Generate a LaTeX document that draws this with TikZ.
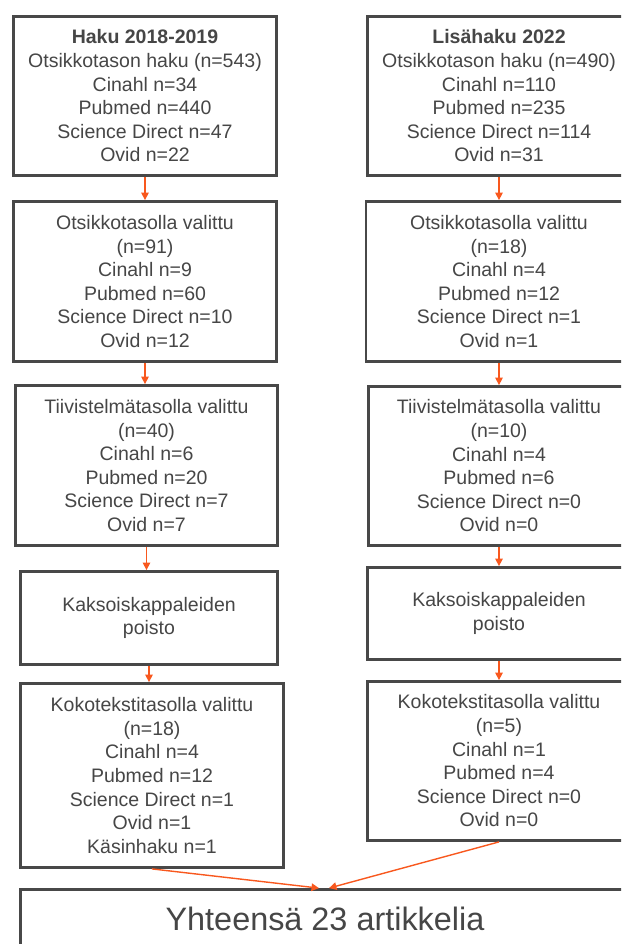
\documentclass[tikz,border=0pt]{standalone}
\usepackage{fontspec}
\setmainfont{Liberation Sans}
\usetikzlibrary{arrows.meta,calc}
\definecolor{tx}{RGB}{70,70,70}
\definecolor{bd}{RGB}{72,72,72}
\definecolor{orng}{RGB}{248,88,30}
\begin{document}
\begin{tikzpicture}[x=1pt,y=-1pt,
  box/.style={draw=bd, line width=2.8pt, fill=white, inner sep=0pt, align=center, text=tx,
              font=\fontsize{19.5}{23.6}\selectfont},
  arr/.style={draw=orng, line width=1.4pt, -{Triangle[width=7.5pt,length=7.5pt]}}]
\useasboundingbox (0,0) rectangle (621,944);
\begin{scope}
\clip (0,0) rectangle (621,944);
% left column
\node[box, minimum width=263pt, minimum height=159pt] (L1) at (145,96)
  {\textbf{Haku 2018-2019}\\Otsikkotason haku (n=543)\\Cinahl n=34\\Pubmed n=440\\Science Direct n=47\\Ovid n=22};
\node[box, minimum width=263pt, minimum height=160pt] (L2) at (145,281.5)
  {Otsikkotasolla valittu\\(n=91)\\Cinahl n=9\\Pubmed n=60\\Science Direct n=10\\Ovid n=12};
\node[box, minimum width=262pt, minimum height=160pt] (L3) at (146.5,465.5)
  {Tiivistelmätasolla valittu\\(n=40)\\Cinahl n=6\\Pubmed n=20\\Science Direct n=7\\Ovid n=7};
\node[box, minimum width=257pt, minimum height=93pt] (L4) at (149,618)
  {Kaksoiskappaleiden\\poisto};
\node[box, minimum width=263pt, minimum height=184pt] (L5) at (152,775.5)
  {Kokotekstitasolla valittu\\(n=18)\\Cinahl n=4\\Pubmed n=12\\Science Direct n=1\\Ovid n=1\\Käsinhaku n=1};
% right column
\node[box, minimum width=263pt, minimum height=159pt] (R1) at (499,96)
  {\textbf{Lisähaku 2022}\\Otsikkotason haku (n=490)\\Cinahl n=110\\Pubmed n=235\\Science Direct n=114\\Ovid n=31};
\node[box, minimum width=266pt, minimum height=160pt] (R2) at (499,281.5)
  {Otsikkotasolla valittu\\(n=18)\\Cinahl n=4\\Pubmed n=12\\Science Direct n=1\\Ovid n=1};
\node[box, minimum width=261pt, minimum height=159pt] (R3) at (499,466)
  {Tiivistelmätasolla valittu\\(n=10)\\Cinahl n=4\\Pubmed n=6\\Science Direct n=0\\Ovid n=0};
\node[box, minimum width=263pt, minimum height=92pt] (R4) at (499,613.5)
  {Kaksoiskappaleiden\\poisto};
\node[box, minimum width=263pt, minimum height=159pt] (R5) at (499,761)
  {Kokotekstitasolla valittu\\(n=5)\\Cinahl n=1\\Pubmed n=4\\Science Direct n=0\\Ovid n=0};
% bottom
\node[box, minimum width=609pt, minimum height=59pt, font=\fontsize{32.4}{38}\selectfont] (B) at (325,919)
  {Yhteensä 23 artikkelia};
% connectors
\draw[arr] (L1.south) -- (L1.south |- L2.north);
\draw[arr] (L2.south) -- (L2.south |- L3.north);
\draw[arr] (L3.south) -- (L3.south |- L4.north);
\draw[arr] (L4.south) -- (L4.south |- L5.north);
\draw[arr] (R1.south) -- (R1.south |- R2.north);
\draw[arr] (R2.south) -- (R2.south |- R3.north);
\draw[arr] (R3.south) -- (R3.south |- R4.north);
\draw[arr] (R4.south) -- (R4.south |- R5.north);
\draw[arr] (L5.south) -- ([xshift=-6pt]B.north);
\draw[arr] (R5.south) -- ([xshift=4pt]B.north);
\end{scope}
\end{tikzpicture}
\end{document}
